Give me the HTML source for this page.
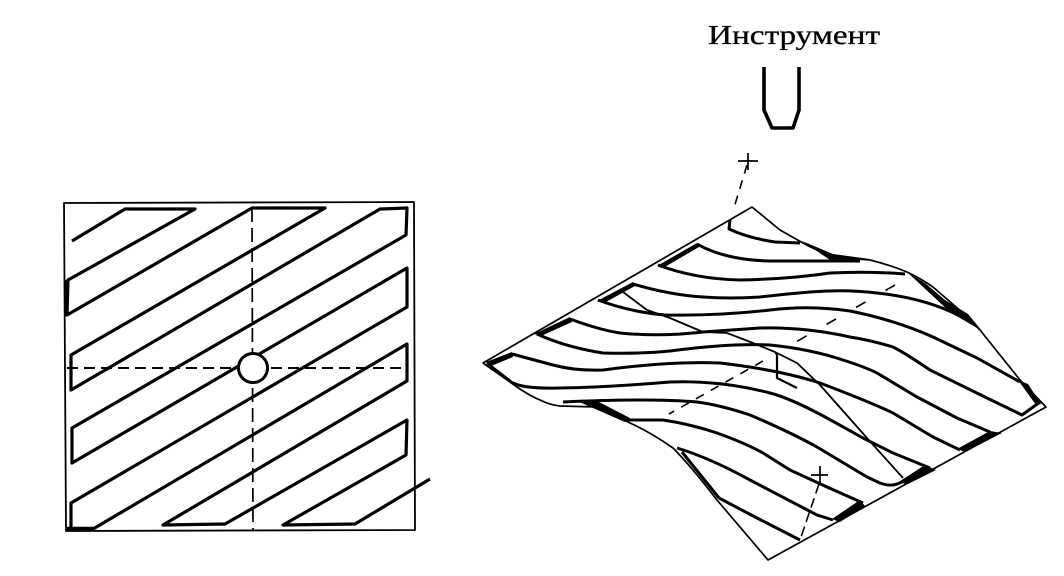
<!DOCTYPE html>
<html>
<head>
<meta charset="utf-8">
<style>
html,body{margin:0;padding:0;background:#fff;width:1064px;height:576px;overflow:hidden}
svg{display:block}
text{font-family:"Liberation Serif","Noto Serif CJK SC",serif}
</style>
</head>
<body>
<svg width="1064" height="576" viewBox="0 0 1064 576" fill="none" stroke="#000" stroke-linejoin="round" stroke-linecap="butt">
<rect width="1064" height="576" fill="#fff" stroke="none"/>

<!-- Left panel -->
<polygon points="64,203 414,202 415,530 66,531" stroke-width="1.8"/>
<polyline stroke-width="3.2" points="72,241 125,209 195,209 68,280 67,315 252,208 325,208 71,355 71,390 380,209 407,208 406,235 72,428 72,463 407,268 407,307 71,503 71,530 93,529 407,344 407,381 163,525 225,524 407,420 406,455 283,525 355,524 430,479"/>
<line x1="67" y1="529" x2="93" y2="529" stroke-width="4.5"/>
<line x1="66" y1="280" x2="66" y2="316" stroke-width="3"/>
<line x1="67" y1="368" x2="408" y2="368" stroke-width="2" stroke-dasharray="11,6"/>
<line x1="252" y1="208" x2="253" y2="531" stroke-width="1.7" stroke-dasharray="14,6"/>
<circle cx="253" cy="368" r="14.5" fill="#fff" stroke-width="3"/>

<!-- Tool label and tool -->
<text x="708" y="44" font-size="27" fill="#000" stroke="#000" stroke-width="0.3" textLength="172" lengthAdjust="spacingAndGlyphs">Инструмент</text>
<polyline stroke-width="3.6" points="764,67 764,110 772,128 793,128 799,110 799,67"/>

<!-- Right panel outline -->
<path stroke-width="1.7" d="M768,560 L1046,407 L1020,380 L980,330 L963,313 L933,287 Q920,278 907,272 Q890,265 870,260 Q845,258 833,256 Q815,250 803,243 L780,230 L752,207 L483,363 L517,387 Q530,396 540,400 Q550,405 560,406 L597,407 L630,423 Q650,432 673,448 Q690,465 717,500 L768,560 Z"/>

<!-- Toolpath -->
<path stroke-width="3" d="M730,220 L729,229 Q748,238 775,242 L800,243"/>
<polygon fill="#000" stroke="none" points="802,241 833,254 870,259 833,262"/>
<path stroke-width="3" d="M860,261 L770,261 Q725,260 697,244"/>
<polygon fill="#000" stroke="none" points="697,243 657,266 663,268 699,247"/>
<path stroke-width="3" d="M658,265 Q695,279 740,280 Q790,279 830,273 Q870,271 905,274"/>
<polygon fill="#000" stroke="none" points="907,272 925,283 945,300 968,314 982,331 950,312"/>
<path stroke-width="3" d="M960,316 Q925,298 877,293 Q845,289 810,292 Q785,294 760,297 Q730,299 703,297 Q670,295 633,284"/>
<polygon fill="#000" stroke="none" points="633,282 597,301 604,303 635,286"/>
<path stroke-width="3" d="M598,300 Q630,312 665,315 Q720,316 770,310 Q810,305 850,311 Q895,320 933,337 L977,358 L1020,382"/>
<polygon fill="#000" stroke="none" points="1018,380 1028,384 1041,404 1036,405"/>
<path stroke-width="3" d="M1040,402 L1022,415 L987,398 L930,370 Q905,353 893,347 Q870,340 850,337 Q805,327 760,328 L703,332 Q660,337 620,333 Q600,330 570,319"/>
<polygon fill="#000" stroke="none" points="570,317 534,334 541,336 572,322"/>
<path stroke-width="3" d="M537,334 Q565,347 603,353 Q640,354 670,351 Q730,343 770,345 Q810,349 843,360 Q865,367 877,373 L917,397 L957,418 L990,432"/>
<polygon fill="#000" stroke="none" points="990,431 1002,433 965,452 957,449"/>
<path stroke-width="3" d="M960,450 L933,437 L893,413 Q870,402 820,383 Q780,370 720,363 Q670,361 603,370 Q575,371 553,365 L512,354"/>
<polygon fill="#000" stroke="none" points="512,352 486,362 491,366 513,357"/>
<path stroke-width="2.4" d="M487,363 L513,383"/>
<path stroke-width="3" d="M513,383 Q525,389 560,388 Q610,387 670,382 Q720,380 770,393 Q790,398 827,418 L863,438 L893,453 L930,468"/>
<polygon fill="#000" stroke="none" points="925,465 936,470 908,484 900,483"/>
<path stroke-width="3" d="M923,468 L903,481 Q893,488 880,483 L867,477 L817,447 Q790,432 750,415 Q720,405 697,402 Q650,398 563,402"/>
<polygon fill="#000" stroke="none" points="577,401 595,400 630,418 625,422"/>
<path stroke-width="3" d="M627,420 L663,420 Q690,424 717,433 Q745,443 763,453 L790,470 L827,487 L863,503"/>
<polygon fill="#000" stroke="none" points="860,500 865,506 840,522 832,519"/>
<path stroke-width="3" d="M833,520 L817,515 L750,480 Q710,458 677,448"/>
<line x1="682" y1="452" x2="719" y2="498" stroke-width="3"/>
<path stroke-width="3" d="M719,498 L757,518 L800,540"/>

<!-- Thin crossing line and hook -->
<polyline stroke-width="1.8" points="623,292 647,310 670,318 703,332 727,333 753,343 775,352 797,363 820,385 867,438 903,478"/>
<polyline stroke-width="2.2" points="777,353 777,378 797,388"/>

<!-- Axes -->
<line x1="895" y1="285" x2="775" y2="354" stroke-width="1.6" stroke-dasharray="11,23"/>
<line x1="763" y1="361" x2="669" y2="414" stroke-width="1.6" stroke-dasharray="9,8"/>
<line x1="747" y1="165" x2="733" y2="211" stroke-width="1.6" stroke-dasharray="9,7"/>
<line x1="819" y1="484" x2="800" y2="540" stroke-width="1.6" stroke-dasharray="10,5"/>
<path stroke-width="1.7" d="M738,161 H758 M748,153 V170"/>
<path stroke-width="1.7" d="M811,475 H828 M820,466 V485"/>
</svg>
</body>
</html>
